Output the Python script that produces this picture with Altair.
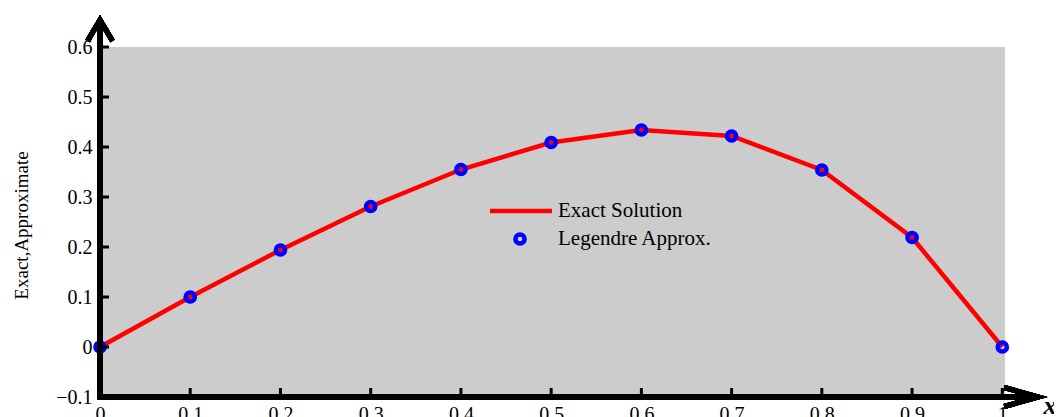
import altair as alt
import pandas as pd

# ---- data ----
x_vals = [0.0, 0.1, 0.2, 0.3, 0.4, 0.5, 0.6, 0.7, 0.8, 0.9, 1.0]
exact_vals = [0.0, 0.100, 0.194, 0.281, 0.355, 0.409, 0.434, 0.422, 0.354, 0.219, 0.0]
approx_vals = [0.0, 0.100, 0.194, 0.281, 0.355, 0.409, 0.434, 0.422, 0.354, 0.219, 0.0]
x_ticks = [0, 0.1, 0.2, 0.3, 0.4, 0.5, 0.6, 0.7, 0.8, 0.9, 1]
y_ticks = [-0.1, 0, 0.1, 0.2, 0.3, 0.4, 0.5, 0.6]
legend_labels = ["Exact Solution", "Legendre Approx."]

FONT = "Liberation Serif"

df = pd.DataFrame({"x": x_vals, "exact": exact_vals, "approx": approx_vals})
xt = pd.DataFrame({"t": [v for v in x_ticks if v > 0]})
yt = pd.DataFrame({"t": [v for v in y_ticks if v >= 0]})
leg1 = pd.DataFrame({"label": [legend_labels[0]]})
leg2 = pd.DataFrame({"label": [legend_labels[1]]})

xs = alt.Scale(domain=[0, 1.003], nice=False, zero=False)
ys = alt.Scale(domain=[-0.1, 0.6], nice=False, zero=False)

xaxis = alt.Axis(values=x_ticks, format="~g", domain=False, ticks=False, grid=False,
                 labelFont=FONT, labelFontSize=20, labelColor="black", labelPadding=7,
                 labelFlush=False, title="x", titleFont=FONT, titleFontSize=26,
                 titleFontStyle="italic", titleFontWeight="bold", titleColor="black",
                 titleX=943, titleY=8, titleAlign="left", titleBaseline="middle")
yaxis = alt.Axis(values=y_ticks, format="~g", domain=False, ticks=False, grid=False,
                 labelFont=FONT, labelFontSize=20, labelColor="black", labelPadding=8,
                 labelFlush=False, title="Exact,Approximate", titleFont=FONT,
                 titleFontSize=19, titleFontWeight="normal", titleColor="black",
                 titleX=-79, titleY=178, titleAngle=-90, titleAlign="center",
                 titleBaseline="middle")

base = alt.Chart(df)

line = base.mark_line(color="#ff0000", strokeWidth=4.5).encode(
    x=alt.X("x:Q", scale=xs, axis=xaxis),
    y=alt.Y("exact:Q", scale=ys, axis=yaxis),
)
pts = base.mark_point(filled=False, color="#0000ff", strokeWidth=4.5, size=85, opacity=1).encode(
    x=alt.X("x:Q", scale=xs),
    y=alt.Y("approx:Q", scale=ys),
)

# axis lines with arrows
vline = base.mark_rule(color="black", strokeWidth=5).encode(
    x=alt.XDatum(0), y=alt.YDatum(-0.1), y2=alt.Y2Datum(0.65))
hline = base.mark_rule(color="black", strokeWidth=5).encode(
    x=alt.XDatum(-0.003), x2=alt.X2Datum(1.034), y=alt.YDatum(-0.1))
up_arrow = base.mark_point(
    shape="M-1,0.84L0,-0.84L1,0.84", filled=False, color="black", strokeWidth=5,
    size=625, opacity=1, strokeJoin="miter").encode(
    x=alt.XDatum(0), y=alt.YDatum(0.633))
right_arrow = base.mark_point(
    shape="M-1,-0.56L1,0L-1,0.56", filled=False, color="black", strokeWidth=5,
    size=1156, opacity=1, strokeJoin="miter").encode(
    x=alt.XDatum(1.021), y=alt.YDatum(-0.1))

# inward ticks
ytick_marks = alt.Chart(yt).mark_rule(color="black", strokeWidth=3).encode(
    x=alt.value(0), x2=alt.value(9), y=alt.Y("t:Q", scale=ys))
xtick_marks = alt.Chart(xt).mark_rule(color="black", strokeWidth=3).encode(
    x=alt.X("t:Q", scale=xs), y=alt.value(350), y2=alt.value(341))

# legend
leg_line = alt.Chart(leg1).mark_rule(color="#ff0000", strokeWidth=4.5).encode(
    x=alt.value(390), x2=alt.value(452), y=alt.value(164))
leg_pt = alt.Chart(leg2).mark_point(filled=False, color="#0000ff", strokeWidth=4.5,
                                     size=85, opacity=1).encode(
    x=alt.value(420), y=alt.value(192))
leg_text1 = alt.Chart(leg1).mark_text(font=FONT, fontSize=21, color="black", align="left",
                                      baseline="middle").encode(
    x=alt.value(458), y=alt.value(164), text="label:N")
leg_text2 = alt.Chart(leg2).mark_text(font=FONT, fontSize=21, color="black", align="left",
                                      baseline="middle").encode(
    x=alt.value(458), y=alt.value(192), text="label:N")

chart = alt.layer(
    line, pts, ytick_marks, xtick_marks, vline, hline, up_arrow, right_arrow,
    leg_line, leg_pt, leg_text1, leg_text2
).properties(
    width=905, height=350,
    autosize=alt.AutoSizeParams(type="none"),
    padding={"left": 92, "top": 39, "right": 49, "bottom": 20},
    background="white",
).configure_view(fill="#cccccc", strokeWidth=0)

chart.save("out.html", embed_options={"renderer": "svg", "actions": False})
